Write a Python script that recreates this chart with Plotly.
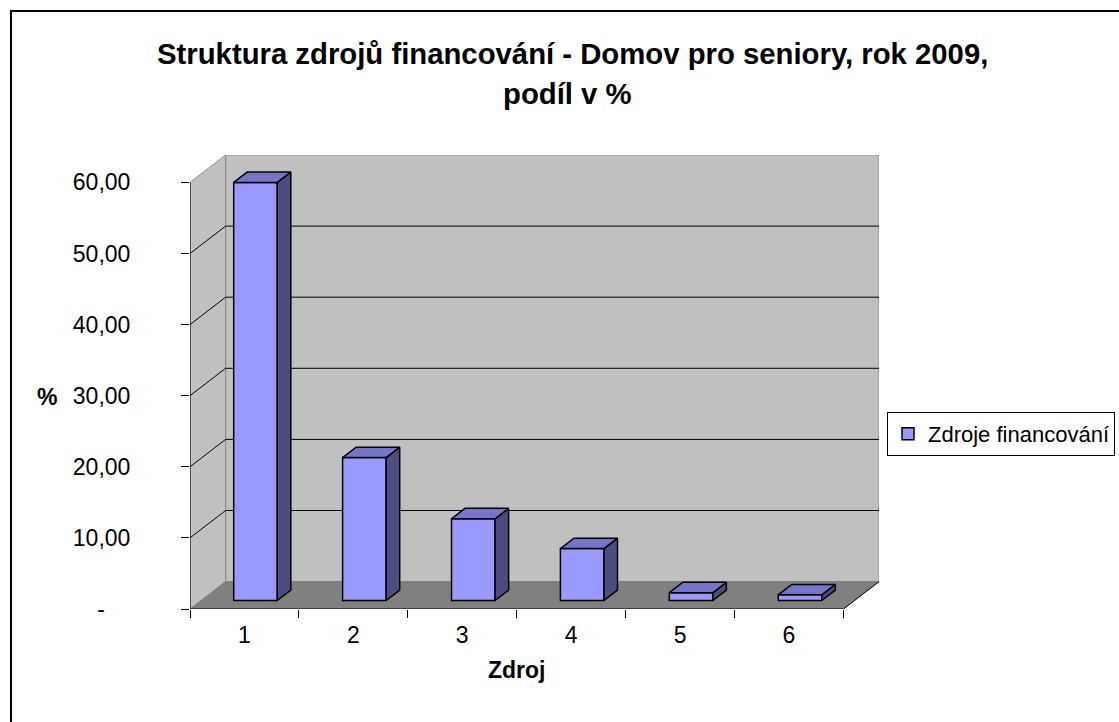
import plotly.graph_objects as go

# ---------------- data ----------------
categories = ["1", "2", "3", "4", "5", "6"]
values = [58.8, 20.1, 11.5, 7.3, 1.1, 0.8]
series_name = "Zdroje financování"
y_tickvals = [0, 10, 20, 30, 40, 50, 60]
y_ticktext = ["-\u00a0\u00a0\u00a0\u00a0", "10,00", "20,00", "30,00", "40,00", "50,00", "60,00"]
title_line1 = "Struktura zdrojů financování - Domov pro seniory, rok 2009,"
title_line2 = "podíl v %"
x_title = "Zdroj"
y_title = "%"

# ---------------- geometry / style ----------------
W, H = 1119, 722
L, R, T, B = 190, 240, 155, 113
pw, ph = W - L - R, H - T - B
X_UNIT, Y_UNIT = 108.9, 7.11
n = len(categories)
x_lo = 0.5
x_hi = x_lo + pw / X_UNIT
y_hi = ph / Y_UNIT
YMAX = max(y_tickvals)
DX = x_hi - (n + 0.5)          # depth offset in x units
DY = y_hi - YMAX               # depth offset in y units
F1, F2 = 0.31, 0.69            # bar front/back depth fractions
BW = 0.40                      # bar width

FONT = "Liberation Sans, Arial, sans-serif"
WALL = "#C0C0C0"
FLOOR = "#808080"
EDGE = "#8C8C8C"
FRONT = "#9999FF"
TOP = "#7676C9"
SIDE = "#4C4C80"


def path(xs, ys):
    return "M " + " L ".join(f"{x},{y}" for x, y in zip(xs, ys)) + " Z"


shapes = []
# back wall
shapes.append(dict(type="path", xref="x", yref="y", layer="below",
                   path=path([x_lo + DX, x_hi, x_hi, x_lo + DX], [DY, DY, y_hi, y_hi]),
                   fillcolor=WALL, line=dict(color=EDGE, width=1)))
# side wall
shapes.append(dict(type="path", xref="x", yref="y", layer="below",
                   path=path([x_lo, x_lo + DX, x_lo + DX, x_lo], [0, DY, y_hi, YMAX]),
                   fillcolor=WALL, line=dict(color=EDGE, width=1)))
# floor
shapes.append(dict(type="path", xref="x", yref="y", layer="below",
                   path=path([x_lo, n + 0.5, x_hi, x_lo + DX], [0, 0, DY, DY]),
                   fillcolor=FLOOR, line=dict(color=FLOOR, width=1)))
# gridlines: side-wall diagonal + back-wall horizontal
for v in y_tickvals[1:-1]:
    shapes.append(dict(type="path", xref="x", yref="y", layer="below",
                       path=f"M {x_lo},{v} L {x_lo + DX},{v + DY} L {x_hi},{v + DY}",
                       line=dict(color="black", width=1)))
# outer chart border
shapes.append(dict(type="rect", xref="paper", yref="paper",
                   x0=(11 - L) / pw, x1=(1130 - L) / pw,
                   y0=(H - B - 735) / ph, y1=(H - B - 11) / ph,
                   line=dict(color="black", width=2), fillcolor="rgba(0,0,0,0)", layer="below"))

fig = go.Figure()

# front faces of bars
xc = [i + 1 + F1 * DX for i in range(n)]
base = F1 * DY
fig.add_trace(go.Bar(x=xc, y=values, base=base, width=BW, name=series_name,
                     marker=dict(color=FRONT, line=dict(color="black", width=1.5)),
                     showlegend=True, hoverinfo="skip"))

# side and top faces of bars
ddx, ddy = (F2 - F1) * DX, (F2 - F1) * DY
sx, sy, tx, ty = [], [], [], []
for c, v in zip(xc, values):
    xl, xr = c - BW / 2, c + BW / 2
    top = base + v
    sx += [xr, xr, xr + ddx, xr + ddx, xr, None]
    sy += [base, top, top + ddy, base + ddy, base, None]
    tx += [xl, xr, xr + ddx, xl + ddx, xl, None]
    ty += [top, top, top + ddy, top + ddy, top, None]
fig.add_trace(go.Scatter(x=sx, y=sy, mode="lines", fill="toself", fillcolor=SIDE,
                         line=dict(color="black", width=1.5), showlegend=False, hoverinfo="skip"))
fig.add_trace(go.Scatter(x=tx, y=ty, mode="lines", fill="toself", fillcolor=TOP,
                         line=dict(color="black", width=1.5), showlegend=False, hoverinfo="skip"))

# front axis lines
fig.add_trace(go.Scatter(x=[x_lo, x_lo, None, x_lo, n + 0.5, x_hi],
                         y=[YMAX, 0, None, 0, 0, DY], mode="lines",
                         line=dict(color="black", width=1), showlegend=False, hoverinfo="skip"))

fig.update_layout(
    width=W, height=H,
    margin=dict(l=L, r=R, t=T, b=B, autoexpand=False),
    paper_bgcolor="white", plot_bgcolor="white",
    font=dict(family=FONT, size=23, color="black"),
    showlegend=True,
    legend=dict(x=(887 - L) / pw, xanchor="left", y=(H - B - 412) / ph, yanchor="top",
                bordercolor="black", borderwidth=1, bgcolor="white",
                entrywidth=250, entrywidthmode="pixels",
                font=dict(family=FONT, size=22, color="black")),
    xaxis=dict(range=[x_lo, x_hi], tickmode="array", tickvals=[i + 1 for i in range(n)],
               ticktext=categories, ticks="", showgrid=False, zeroline=False, showline=False,
               ticklabelstandoff=10,
               minor=dict(tickmode="array", tickvals=[i + 0.5 for i in range(n + 1)],
                          ticks="outside", ticklen=8, tickcolor="black", tickwidth=1,
                          showgrid=False),
               fixedrange=True),
    yaxis=dict(range=[0, y_hi], tickmode="array", tickvals=y_tickvals, ticktext=y_ticktext,
               ticks="outside", ticklen=8, tickcolor="black", tickwidth=1,
               showgrid=False, zeroline=False, showline=False, ticklabelstandoff=46,
               fixedrange=True),
    shapes=shapes,
    annotations=[
        dict(text=f"<b>{title_line1}</b>", xref="paper", yref="paper",
             x=(572.5 - L) / pw, y=(H - B - 54) / ph, xanchor="center", yanchor="middle",
             showarrow=False, font=dict(family=FONT, size=29.3, color="black")),
        dict(text=f"<b>{title_line2}</b>", xref="paper", yref="paper",
             x=(567 - L) / pw, y=(H - B - 94) / ph, xanchor="center", yanchor="middle",
             showarrow=False, font=dict(family=FONT, size=29.3, color="black")),
        dict(text=f"<b>{x_title}</b>", xref="paper", yref="paper",
             x=(517 - L) / pw, y=(H - B - 670) / ph, xanchor="center", yanchor="middle",
             showarrow=False, font=dict(family=FONT, size=23, color="black")),
        dict(text=f"<b>{y_title}</b>", xref="paper", yref="paper",
             x=(46.5 - L) / pw, y=(H - B - 397) / ph, xanchor="center", yanchor="middle",
             showarrow=False, font=dict(family=FONT, size=23, color="black")),
    ],
)

fig.write_html("out.html", config={"displayModeBar": False},
               post_script="document.body.style.margin='0';")
